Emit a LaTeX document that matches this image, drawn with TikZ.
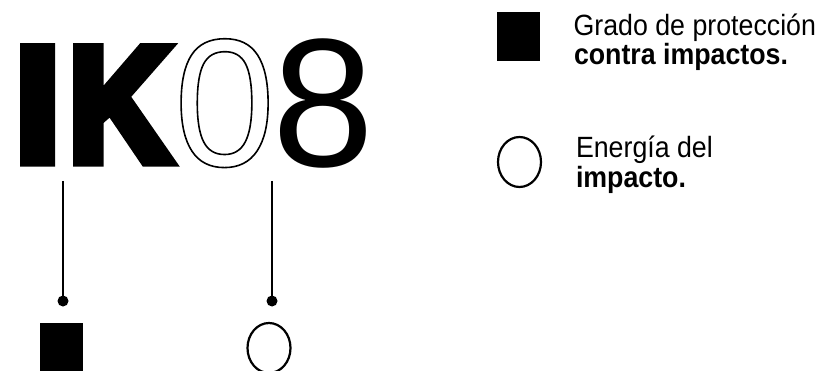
\documentclass[tikz,border=0pt]{standalone}
\usepackage{fontspec}
\usepackage{graphicx}
\usetikzlibrary{shapes.geometric}
\setmainfont{Liberation Sans}
\newfontfamily\lab[FakeStretch=0.913]{Liberation Sans}
\newfontfamily\glyphfont{Liberation Sans}
\newcommand\heavytext[2]{\special{pdf:literal direct 2 Tr #1 w}#2\special{pdf:literal direct 0 Tr 1 w}}
\newcommand\outlinetext[2]{\special{pdf:literal direct 1 Tr #1 w}#2\special{pdf:literal direct 0 Tr 1 w}}
\tikzset{
  glyph/.style={inner sep=0pt, outer sep=0pt, anchor=base west},
  labtext/.style={inner sep=0pt, outer sep=0pt, anchor=base west, font=\lab\fontsize{29.3}{32}\selectfont},
  blacksq/.style={rectangle, fill=black, minimum width=43, minimum height=49, inner sep=0pt},
  ring/.style={ellipse, draw=black, line width=2.2, minimum width=43, minimum height=50, inner sep=0pt},
  dotend/.style={circle, fill=black, minimum size=11, inner sep=0pt},
  conn/.style={line width=2.8, draw=black}
}
\begin{document}
\begin{tikzpicture}[x=1pt,y=-1pt]
\useasboundingbox (0,0) rectangle (826,371);
% connectors
\coordinate (top1) at (63,181);
\coordinate (top2) at (272,181);
\node[dotend] (d1) at (63,301) {};
\node[dotend] (d2) at (272,301) {};
\draw[conn] (top1) -- (d1.center);
\draw[conn] (top2) -- (d2.center);
% symbols
\node[blacksq] (sq1) at (61.5,347.5) {};
\node[ring] (c1) at (269,348) {};
\node[blacksq] (sq2) at (518.5,36.5) {};
\node[ring] (c2) at (519.5,162) {};
% labels
\node[labtext] (g1) at (573.6,36) {Grado de protección};
\node[labtext] (g2) at (574,65) {\bfseries contra impactos.};
\node[labtext] (e1) at (576,158) {Energía del};
\node[labtext] (e2) at (576,188) {\bfseries impacto.};
% big code
\node[glyph, font=\glyphfont\bfseries\fontsize{162.6}{170}\selectfont] (I) at (15.1,160.9) {\heavytext{11.6}{I}};
\node[glyph, font=\glyphfont\bfseries\fontsize{162.6}{170}\selectfont] (K) at (68.7,160.9) {\scalebox{0.868}[1]{\heavytext{11.6}{K}}};
\node[glyph, font=\glyphfont\fontsize{182}{190}\selectfont] (Z) at (174,165.8) {\outlinetext{1.6}{0}};
\node[glyph, font=\glyphfont\fontsize{183}{190}\selectfont] (E) at (272.7,166.8) {8};
\end{tikzpicture}
\end{document}
